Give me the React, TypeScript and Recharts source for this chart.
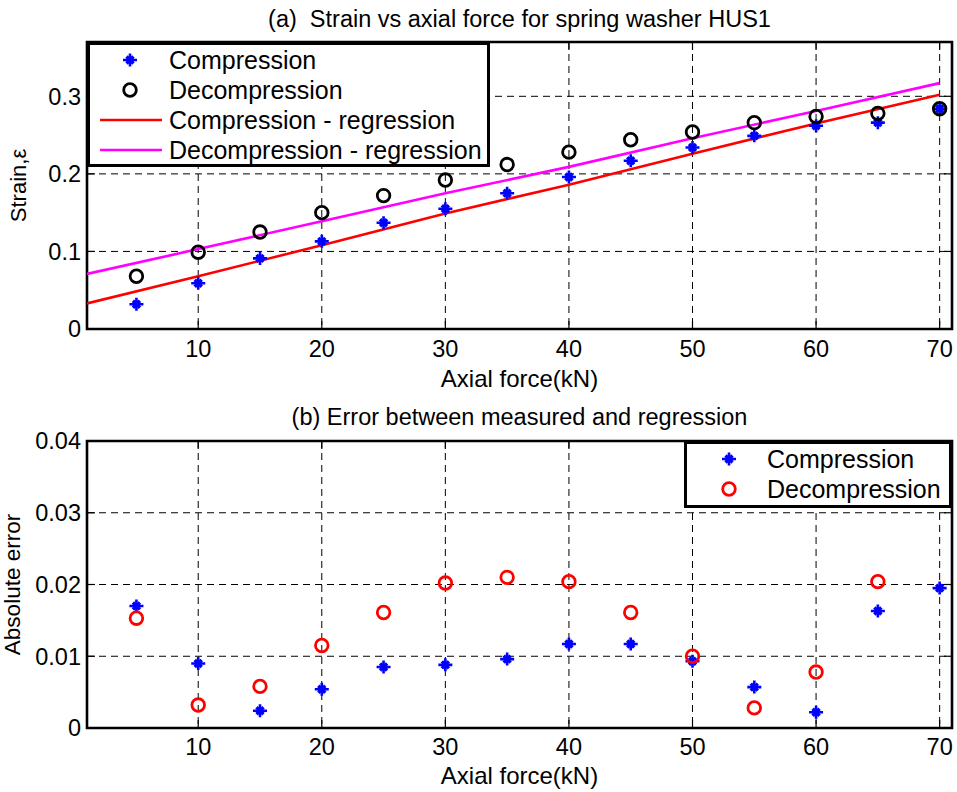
import {
  CartesianGrid,
  ComposedChart,
  Label,
  Legend,
  Line,
  ReferenceArea,
  Scatter,
  XAxis,
  YAxis,
} from 'recharts';

// axial force (kN) at each measurement
const forces = [5, 10, 15, 20, 25, 30, 35, 40, 45, 50, 55, 60, 65, 70];

// (a) measured strain
const compressionStrain = [0.032, 0.059, 0.091, 0.113, 0.137, 0.155, 0.175, 0.196, 0.217, 0.234, 0.249, 0.262, 0.266, 0.284];
const decompressionStrain = [0.068, 0.099, 0.125, 0.15, 0.172, 0.192, 0.212, 0.228, 0.244, 0.254, 0.266, 0.274, 0.278, 0.284];

// (a) regression lines, read at these forces
const fitForces = [1, 10, 20, 30, 40, 50, 60, 70];
const compressionFit = [0.033, 0.068, 0.108, 0.149, 0.186, 0.226, 0.265, 0.302];
const decompressionFit = [0.071, 0.103, 0.139, 0.175, 0.209, 0.246, 0.281, 0.317];

// (b) absolute error
const compressionError = [0.017, 0.009, 0.0024, 0.0054, 0.0085, 0.0088, 0.0096, 0.0117, 0.0117, 0.0093, 0.0057, 0.0022, 0.0163, 0.0195];
const decompressionErrorForces = [5, 10, 15, 20, 25, 30, 35, 40, 45, 50, 55, 60, 65];
const decompressionError = [0.0153, 0.0032, 0.0058, 0.0115, 0.0161, 0.0202, 0.021, 0.0204, 0.0161, 0.01, 0.0028, 0.0078, 0.0204];

const xTicks = [10, 20, 30, 40, 50, 60, 70];
const strainTicks = [0, 0.1, 0.2, 0.3];
const errorTicks = [0, 0.01, 0.02, 0.03, 0.04];

const strainLegend = [
  { label: 'Compression', kind: 'star', color: '#0000ff' },
  { label: 'Decompression', kind: 'circle', color: '#000000' },
  { label: 'Compression - regression', kind: 'line', color: '#ff0000' },
  { label: 'Decompression - regression', kind: 'line', color: '#ff00ff' },
];
const errorLegend = [
  { label: 'Compression', kind: 'star', color: '#0000ff' },
  { label: 'Decompression', kind: 'circle', color: '#ff0000' },
];

const pairs = (xs: number[], ys: number[]) => xs.map((x, i) => ({ x, y: ys[i] }));

const FONT = '"Liberation Sans", Arial, Helvetica, sans-serif';
const LEFT = 87;
const RIGHT = 952;

function Star({ cx, cy, color = '#0000ff' }: { cx: number; cy: number; color?: string }) {
  return (
    <g stroke={color} fill="none">
      <path d={`M${cx - 7},${cy}L${cx + 7},${cy}M${cx},${cy - 6.5}L${cx},${cy + 6.5}`} strokeWidth={2.6} />
      <path d={`M${cx - 3.5},${cy - 3.5}L${cx + 3.5},${cy + 3.5}M${cx - 3.5},${cy + 3.5}L${cx + 3.5},${cy - 3.5}`} strokeWidth={3.4} />
    </g>
  );
}

function Ring({ cx, cy, color }: { cx: number; cy: number; color: string }) {
  return <circle cx={cx} cy={cy} r={6.3} stroke={color} strokeWidth={2.8} fill="none" />;
}

function makeXTick(top: number, bottom: number) {
  return (props: any) => {
    const { x, y, payload } = props;
    return (
      <g>
        <line x1={x} x2={x} y1={bottom} y2={bottom - 8} stroke="#000" strokeWidth={1.2} />
        <line x1={x} x2={x} y1={top} y2={top + 8} stroke="#000" strokeWidth={1.2} />
        <text x={x} y={y} dy="0.71em" textAnchor="middle" fontSize={23.5} fontFamily={FONT} fill="#000">
          {payload.value}
        </text>
      </g>
    );
  };
}

function YTick(props: any) {
  const { x, y, payload } = props;
  return (
    <g>
      <line x1={LEFT} x2={LEFT + 8} y1={y} y2={y} stroke="#000" strokeWidth={1.2} />
      <line x1={RIGHT} x2={RIGHT - 8} y1={y} y2={y} stroke="#000" strokeWidth={1.2} />
      <text x={x} y={y} dy="0.355em" textAnchor="end" fontSize={23.5} fontFamily={FONT} fill="#000">
        {payload.value}
      </text>
    </g>
  );
}

function LegendBox({
  items,
  width,
  height,
  markerX,
  textX,
  lineFrom,
  lineTo,
}: {
  items: { label: string; kind: string; color: string }[];
  width: number;
  height: number;
  markerX: number;
  textX: number;
  lineFrom: number;
  lineTo: number;
}) {
  return (
    <svg width={width} height={height} style={{ display: 'block' }}>
      <rect x={1.5} y={1.5} width={width - 3} height={height - 3} fill="#fff" stroke="#000" strokeWidth={3} />
      {items.map((it, i) => {
        const cy = 18 + i * 30;
        return (
          <g key={it.label}>
            {it.kind === 'star' && <Star cx={markerX} cy={cy} color={it.color} />}
            {it.kind === 'circle' && <Ring cx={markerX} cy={cy} color={it.color} />}
            {it.kind === 'line' && (
              <line x1={lineFrom} x2={lineTo} y1={cy} y2={cy} stroke={it.color} strokeWidth={2.6} />
            )}
            <text x={textX} y={cy + 8.5} fontSize={25} fontFamily={FONT} fill="#000">
              {it.label}
            </text>
          </g>
        );
      })}
    </svg>
  );
}

const titleStyle = {
  position: 'absolute' as const,
  left: LEFT,
  width: RIGHT - LEFT,
  textAlign: 'center' as const,
  fontFamily: FONT,
  fontSize: 23.5,
  lineHeight: '24px',
  whiteSpace: 'pre' as const,
  color: '#000',
};

export default function App() {
  return (
    <div style={{ position: 'absolute', left: 0, top: 0, width: 957, height: 792, background: '#fff' }}>
      <div style={{ ...titleStyle, top: 7 }}>(a)  Strain vs axial force for spring washer HUS1</div>
      <div style={{ position: 'absolute', left: 0, top: 0 }}>
        <ComposedChart width={957} height={400} margin={{ top: 42, right: 5, bottom: 0, left: 0 }}>
          <CartesianGrid stroke="#000" strokeDasharray="7 5" strokeWidth={1} horizontalValues={strainTicks} verticalValues={xTicks} />
          <XAxis
            type="number"
            dataKey="x"
            domain={[1, 71]}
            ticks={xTicks}
            allowDataOverflow
            height={71}
            axisLine={false}
            tickLine={false}
            tickSize={0}
            tickMargin={11}
            tick={makeXTick(42, 329)}
          >
            <Label value="Axial force(kN)" position="insideBottom" offset={13} fontSize={24} fontFamily={FONT} fill="#000" />
          </XAxis>
          <YAxis
            type="number"
            dataKey="y"
            domain={[0, 0.37]}
            ticks={strainTicks}
            allowDataOverflow
            width={LEFT}
            axisLine={false}
            tickLine={false}
            tickSize={0}
            tickMargin={6}
            tick={YTick}
          >
            <Label
              value="Strain,ε"
              angle={-90}
              position="insideLeft"
              offset={18}
              fontSize={22}
              fontFamily={FONT}
              fill="#000"
              style={{ textAnchor: 'middle' }}
            />
          </YAxis>
          <Scatter
            data={pairs(forces, compressionStrain)}
            isAnimationActive={false}
            shape={(p: any) => <Star cx={p.cx} cy={p.cy} />}
          />
          <Scatter
            data={pairs(forces, decompressionStrain)}
            isAnimationActive={false}
            shape={(p: any) => <Ring cx={p.cx} cy={p.cy} color="#000" />}
          />
          <Line data={pairs(fitForces, compressionFit)} dataKey="y" type="linear" stroke="#ff0000" strokeWidth={2.6} dot={false} isAnimationActive={false} />
          <Line data={pairs(fitForces, decompressionFit)} dataKey="y" type="linear" stroke="#ff00ff" strokeWidth={2.6} dot={false} isAnimationActive={false} />
          <ReferenceArea x1={1} x2={71} y1={0} y2={0.37} fill="none" stroke="#000" strokeWidth={2.6} ifOverflow="visible" />
          <Legend
            layout="vertical"
            align="center"
            verticalAlign="middle"
            wrapperStyle={{ left: LEFT, top: 42, width: 403, height: 125 }}
            content={() => (
              <LegendBox items={strainLegend} width={403} height={125} markerX={43} textX={82} lineFrom={13} lineTo={75} />
            )}
          />
        </ComposedChart>
      </div>

      <div style={{ ...titleStyle, top: 405 }}>(b) Error between measured and regression</div>
      <div style={{ position: 'absolute', left: 0, top: 390 }}>
        <ComposedChart width={957} height={402} margin={{ top: 51, right: 5, bottom: 0, left: 0 }}>
          <CartesianGrid stroke="#000" strokeDasharray="7 5" strokeWidth={1} horizontalValues={errorTicks} verticalValues={xTicks} />
          <XAxis
            type="number"
            dataKey="x"
            domain={[1, 71]}
            ticks={xTicks}
            allowDataOverflow
            height={64}
            axisLine={false}
            tickLine={false}
            tickSize={0}
            tickMargin={10}
            tick={makeXTick(51, 338)}
          >
            <Label value="Axial force(kN)" position="insideBottom" offset={8} fontSize={24} fontFamily={FONT} fill="#000" />
          </XAxis>
          <YAxis
            type="number"
            dataKey="y"
            domain={[0, 0.04]}
            ticks={errorTicks}
            allowDataOverflow
            width={LEFT}
            axisLine={false}
            tickLine={false}
            tickSize={0}
            tickMargin={6}
            tick={YTick}
          >
            <Label
              value="Absolute error"
              angle={-90}
              position="insideLeft"
              offset={12}
              fontSize={22.5}
              fontFamily={FONT}
              fill="#000"
              style={{ textAnchor: 'middle' }}
            />
          </YAxis>
          <Scatter
            data={pairs(forces, compressionError)}
            isAnimationActive={false}
            shape={(p: any) => <Star cx={p.cx} cy={p.cy} />}
          />
          <Scatter
            data={pairs(decompressionErrorForces, decompressionError)}
            isAnimationActive={false}
            shape={(p: any) => <Ring cx={p.cx} cy={p.cy} color="#ff0000" />}
          />
          <ReferenceArea x1={1} x2={71} y1={0} y2={0.04} fill="none" stroke="#000" strokeWidth={2.6} ifOverflow="visible" />
          <Legend
            layout="vertical"
            align="center"
            verticalAlign="middle"
            wrapperStyle={{ left: 684, top: 51, width: 268, height: 67 }}
            content={() => (
              <LegendBox items={errorLegend} width={268} height={67} markerX={45} textX={83} lineFrom={13} lineTo={75} />
            )}
          />
        </ComposedChart>
      </div>
    </div>
  );
}
